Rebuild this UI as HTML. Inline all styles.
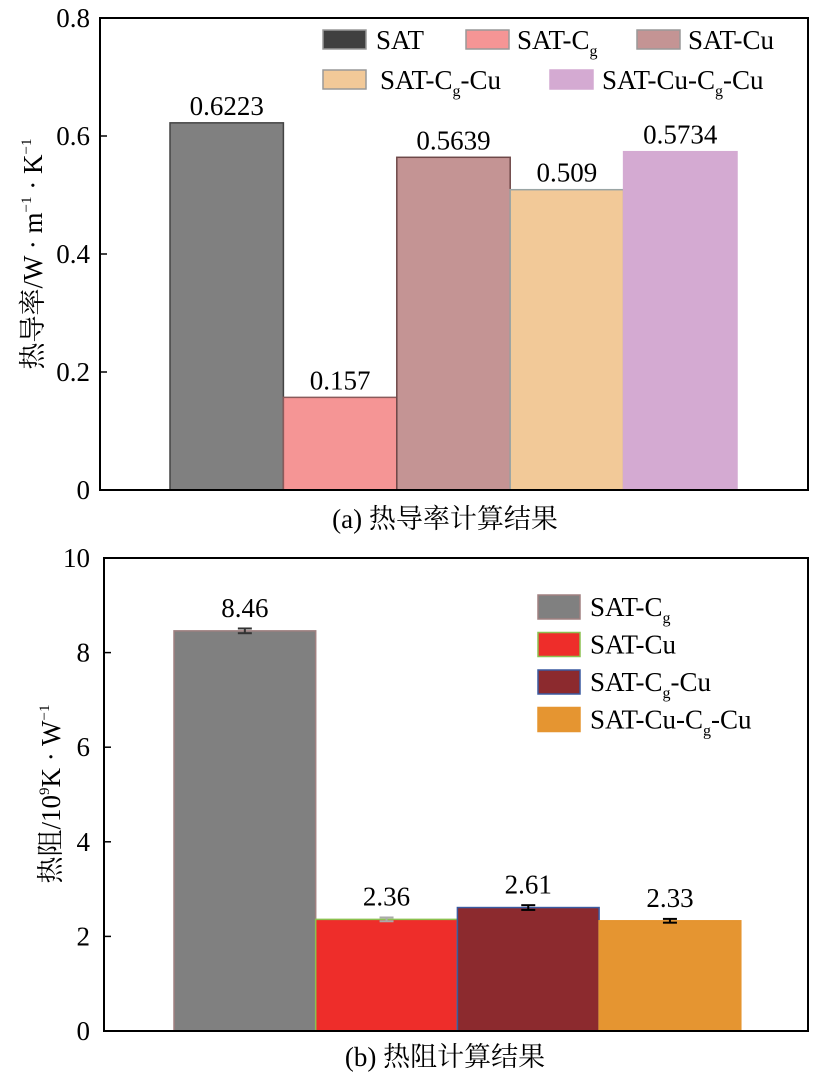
<!DOCTYPE html>
<html><head><meta charset="utf-8"><style>
body{margin:0;background:#fff}
</style></head><body>
<svg id="c" width="820" height="1080"></svg>
<script>
const catsA=["SAT","SAT-Cg","SAT-Cu","SAT-Cg-Cu","SAT-Cu-Cg-Cu"];
const valsA=[0.6223,0.157,0.5639,0.509,0.5734];
const labelsA=["0.6223","0.157","0.5639","0.509","0.5734"];
const ticksA=[0,0.2,0.4,0.6,0.8];
const catsB=["SAT-Cg","SAT-Cu","SAT-Cg-Cu","SAT-Cu-Cg-Cu"];
const valsB=[8.46,2.36,2.61,2.33];
const errB=[0.05,0.04,0.05,0.04];
const labelsB=["8.46","2.36","2.61","2.33"];
const ticksB=[0,2,4,6,8,10];
const NS="http://www.w3.org/2000/svg",svg=document.getElementById('c');
const FF='"Liberation Serif","Noto Serif CJK SC",serif';
function el(t,a,p){const e=document.createElementNS(NS,t);for(const k in a)e.setAttribute(k,a[k]);(p||svg).appendChild(e);return e;}
function txt(x,y,s,a,p){const e=el('text',Object.assign({x:x,y:y,'font-size':27,fill:'#000','font-family':FF},a||{}),p);e.innerHTML=s;return e;}
const sub=s=>{const parts=s.split('Cg');let h='<tspan>'+parts[0]+'</tspan>';for(let i=1;i<parts.length;i++){h+='<tspan>C</tspan><tspan font-size="16" dy="7">g</tspan><tspan dy="-7">'+parts[i]+'</tspan>';}return h;};
// Chart A
const A={l:100,r:808,t:18,b:490,max:0.8,x0:170,bw:113.4};
const yA=v=>A.b-(v/A.max)*(A.b-A.t);
const fillA=["#808080","#f59595","#c49494","#f2c998","#d4aad2"];
const strokeA=["#444","#8a5a5a","#6e4848","#9aa5a5","#d4aad2"];
const gA=el('g',{});
catsA.forEach((c,i)=>{const x=A.x0+i*A.bw;
 const r=el('rect',{x:x,y:yA(valsA[i]),width:A.bw,height:A.b-yA(valsA[i]),fill:fillA[i],stroke:strokeA[i],'stroke-width':1.5},gA);
 
 const t=txt(x+A.bw/2,yA(valsA[i])-8,labelsA[i],{'text-anchor':'middle'},gA);
 });
el('rect',{x:A.l,y:A.t,width:A.r-A.l,height:A.b-A.t,fill:'none',stroke:'#000','stroke-width':2},gA);
ticksA.forEach(v=>{el('line',{x1:A.l,x2:A.l+7,y1:yA(v),y2:yA(v),stroke:'#000','stroke-width':1.5},gA);
 const t=txt(A.l-10,yA(v)+9,v===0?'0':v.toFixed(1),{'text-anchor':'end'},gA);
 });
let yt=txt(0,0,'<tspan>热导率/W · m</tspan><tspan font-size="15" dy="-11">−1</tspan><tspan dy="11"> · K</tspan><tspan font-size="15" dy="-11">−1</tspan>',{transform:'translate(42,254) rotate(-90)','text-anchor':'middle'},gA);

let cap=txt(445,528,'(a) 热导率计算结果',{'text-anchor':'middle'},gA);
const legA=[[323,30,376],[466,30,517],[637,30,688],[323,70,380],[550,70,602]];
catsA.forEach((c,i)=>{const L=legA[i];
 const s=el('rect',{x:L[0],y:L[1],width:43,height:19,fill:i===0?'#404040':fillA[i],stroke:i===4?'#d4aad2':'#999','stroke-width':1.5},gA);
 
 const t=txt(L[2],L[1]+19,sub(c),{},gA);});
// Chart B
const B={l:104,r:808,t:558,b:1031,max:10,x0:174,bw:141.7};
const yB=v=>B.b-(v/B.max)*(B.b-B.t);
const fillB=["#808080","#ee2d2a","#8c2a2e","#e59531"];
const strokeB=["#a08080","#8cc050","#3a5aa0","#e59531"];
const errC=["#333","#aaa","#000","#000"];
const gB=el('g',{});
catsB.forEach((c,i)=>{const x=B.x0+i*B.bw;
 const r=el('rect',{x:x,y:yB(valsB[i]),width:B.bw,height:B.b-yB(valsB[i]),fill:fillB[i],stroke:strokeB[i],'stroke-width':1.5},gB);
 
 const cx=x+B.bw/2,y1=yB(valsB[i]+errB[i]),y2=yB(valsB[i]-errB[i]);
 el('line',{x1:cx,x2:cx,y1:y1,y2:y2,stroke:errC[i],'stroke-width':2},gB);
 el('line',{x1:cx-7,x2:cx+7,y1:y1,y2:y1,stroke:errC[i],'stroke-width':2},gB);
 el('line',{x1:cx-7,x2:cx+7,y1:y2,y2:y2,stroke:errC[i],'stroke-width':2},gB);
 const t=txt(cx,yB(valsB[i])-14,labelsB[i],{'text-anchor':'middle'},gB);
 });
el('rect',{x:B.l,y:B.t,width:B.r-B.l,height:B.b-B.t,fill:'none',stroke:'#000','stroke-width':2},gB);
ticksB.forEach(v=>{el('line',{x1:B.l,x2:B.l+7,y1:yB(v),y2:yB(v),stroke:'#000','stroke-width':1.5},gB);
 const t=txt(B.l-14,yB(v)+9,String(v),{'text-anchor':'end'},gB);
 });
yt=txt(0,0,'<tspan>热阻/10</tspan><tspan font-size="15" dy="-11">9</tspan><tspan dy="11">K · W</tspan><tspan font-size="15" dy="-11">−1</tspan>',{transform:'translate(60,794) rotate(-90)','text-anchor':'middle'},gB);

cap=txt(445,1066,'(b) 热阻计算结果',{'text-anchor':'middle'},gB);
catsB.forEach((c,i)=>{const y=595+i*37.5;
 const s=el('rect',{x:538,y:y,width:42,height:24,fill:fillB[i],stroke:strokeB[i],'stroke-width':1.5},gB);
 
 const t=txt(590,y+21,sub(c),{},gB);});
</script>
</body></html>
